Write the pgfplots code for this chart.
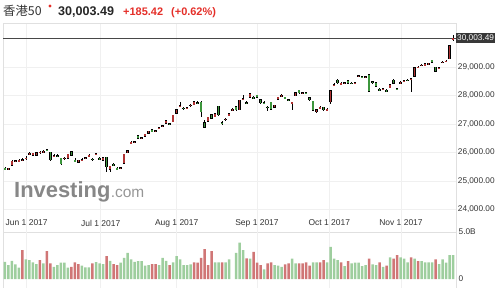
\documentclass[border=0pt]{standalone}
\usepackage{pgfplots}
\pgfplotsset{compat=1.18}
\usepackage{pgfplotstable}
\usepackage{fontspec}
\setmainfont{Liberation Sans}
\newfontfamily\cjk{Noto Sans CJK SC}
\definecolor{upred}{RGB}{176,50,50}
\definecolor{dngreen}{RGB}{60,150,60}
\definecolor{vgreen}{RGB}{158,206,158}
\definecolor{vred}{RGB}{208,118,118}
\definecolor{txt}{RGB}{51,51,51}
\definecolor{chred}{RGB}{228,46,40}
\definecolor{gridc}{RGB}{240,240,240}
\definecolor{framec}{RGB}{224,224,224}
\definecolor{logogray}{RGB}{135,135,135}
\definecolor{logocom}{RGB}{150,150,150}

\pgfplotstableread{
i o h l c
1 25410 25470 25390 25440
2 25560 25720 25540 25690
3 25680 25730 25650 25700
4 25700 25760 25670 25720
5 25730 25790 25700 25745
6 25780 25860 25740 25800
7 25950 26020 25920 25975
8 25910 25990 25890 25970
9 25900 26000 25880 25985
10 25990 26040 25960 26010
11 26020 26080 26000 26045
14 25870 25930 25840 25890
17 25780 25830 25750 25800
18 25800 25950 25790 25940
21 25650 25740 25630 25730
22 25730 25790 25700 25745
23 25800 25850 25770 25820
24 25850 25930 25840 25910
26 25930 25990 25900 25950
28 25730 25830 25720 25820
30 25410 25530 25330 25510
33 25450 25500 25420 25470
34 25620 25950 25600 25930
35 26000 26080 25990 26060
36 26330 26400 26300 26350
37 26360 26410 26330 26380
39 26490 26550 26460 26510
40 26560 26640 26550 26630
41 26680 26760 26670 26750
43 26750 26800 26720 26765
44 26850 26900 26810 26860
45 26920 26980 26900 26945
46 27030 27130 27020 27120
48 27080 27330 27060 27300
49 27380 27520 27370 27500
50 27600 27770 27580 27630
52 27555 27600 27530 27570
53 27640 27690 27610 27660
54 27680 27780 27670 27770
58 27100 27240 27080 27230
60 27260 27360 27250 27350
63 27150 27220 27120 27170
64 27300 27380 27290 27360
65 27500 27550 27470 27510
67 27500 27850 27490 27830
68 27870 28000 27830 27890
70 27930 28060 27920 28050
77 27580 27660 27570 27650
78 27860 27940 27850 27930
79 27990 28040 27960 28000
82 27700 27780 27480 27760
83 27990 28110 27980 28100
85 28080 28130 28050 28095
89 27420 27510 27400 27500
90 27570 27620 27540 27580
92 27500 27550 27470 27510
93 27780 28180 27700 28160
94 28360 28420 28330 28380
96 28410 28460 28380 28420
97 28420 28470 28400 28435
100 28420 28450 28400 28435
101 28670 28720 28650 28690
103 28640 28680 28610 28650
108 28220 28260 28190 28230
110 28270 28380 28260 28370
113 28440 28500 28410 28460
114 28500 28550 28470 28520
116 28560 28610 28120 28580
117 28680 28990 28660 28970
118 28980 29030 28950 28995
119 29050 29100 29020 29060
120 29050 29120 29040 29110
121 29070 29140 29060 29130
124 28960 29010 28930 28970
125 29140 29210 29120 29170
126 29190 29240 29160 29200
127 29280 29760 29260 29740
128 29950 30120 29900 30003.49
}\upc

\pgfplotstableread{
i o h l c
0 25440 25480 25380 25420
12 26100 26130 26040 26070
13 26000 26020 25720 25740
15 25890 25940 25850 25880
16 25790 25800 25600 25610
19 26020 26050 25890 25910
20 25720 25790 25660 25705
25 25770 25800 25720 25750
27 25790 25840 25740 25770
29 25830 25850 25300 25500
31 25580 25620 25520 25560
32 25440 25480 25390 25420
38 26580 26600 26470 26490
42 26790 26810 26720 26740
47 27000 27040 26960 26990
51 27550 27590 27500 27540
55 27740 27790 27700 27730
56 27760 27790 27260 27430
57 27050 27150 26880 26890
59 27320 27340 27180 27200
61 27620 27640 27300 27320
62 27040 27090 26950 27020
66 27600 27620 27480 27500
69 27750 27800 27700 27740
71 27930 27970 27890 27920
72 28000 28030 27920 27930
73 27840 27860 27740 27750
74 27740 27790 27700 27730
75 27590 27630 27460 27570
76 27760 27780 27500 27510
80 27930 27960 27880 27915
81 27840 27880 27790 27825
84 28180 28200 28080 28090
86 28090 28130 28050 28080
87 27920 27940 27840 27850
88 27800 27810 27440 27480
91 27590 27600 27480 27490
95 28530 28560 28430 28440
98 28510 28530 28420 28430
99 28430 28460 28400 28425
102 28650 28690 28620 28640
104 28720 28740 28130 28150
105 28470 28500 28400 28450
106 28450 28460 28320 28330
107 28210 28250 28160 28200
109 28180 28210 28130 28160
111 28540 28580 28420 28430
112 28230 28270 28190 28220
115 28540 28570 28500 28530
122 29230 29250 29150 29160
123 28990 29000 28830 28850
}\dnc

\pgfplotsset{
  wick/.style={draw=none, mark=none,
    error bars/.cd, y dir=both, y explicit, error mark=none,
    error bar style={draw=black, line width=0.5bp}},
  body/.style 2 args={draw=none, mark=none,
    error bars/.cd, y dir=both, y explicit, error mark=none,
    error bar style={draw=#2, line width=#1}},
}

\begin{document}
\begin{tikzpicture}
\useasboundingbox (0,0) rectangle (502bp,294bp);
% title
\node[anchor=base west, inner sep=0pt, font=\cjk\fontsize{12.4}{14}\selectfont, text=txt] at (3bp,278bp) {香港50};
\fill[chred] (50bp,288bp) circle (1.7bp);
\node[anchor=base west, inner sep=0pt, font=\fontsize{12.6}{14}\selectfont\bfseries, text=black!85] at (58bp,278bp) {30,003.49};
\node[anchor=base west, inner sep=0pt, font=\fontsize{11}{13}\selectfont\bfseries, text=chred] at (123bp,278bp) {+185.42};
\node[anchor=base west, inner sep=0pt, font=\fontsize{11}{13}\selectfont\bfseries, text=chred] at (171bp,278bp) {(+0.62\%)};

% price panel
\begin{axis}[
  at={(3bp,62bp)}, anchor=south west, scale only axis,
  width=453bp, height=209bp,
  xmin=-0.571, xmax=128.857, ymin=23211, ymax=30539,
  axis line style={framec},
  scaled y ticks=false, scaled x ticks=false,
  ytick={24000,25000,26000,27000,28000,29000},
  yticklabels={{24,000.00},{25,000.00},{26,000.00},{27,000.00},{28,000.00},{29,000.00}},
  yticklabel pos=right,
  y tick label style={anchor=west, inner sep=0pt, xshift=1.7bp, font=\fontsize{8.3}{9}\selectfont, text=txt},
  xtick={6.2,27.34,49.06,72,92.66,113.14},
  xticklabels={Jun 1 2017,Jul 1 2017,Aug 1 2017,Sep 1 2017,Oct 1 2017,Nov 1 2017},
  x tick label style={anchor=center, inner sep=0pt, yshift=9bp, font=\fontsize{8.5}{9}\selectfont, text=txt},
  major tick length=0pt,
  grid=major, major grid style={gridc, line width=0.6bp},
]
\addplot[black!72, line width=1.2bp] coordinates {(-0.571,30003.49) (128.857,30003.49)};
\coordinate (lastp) at (axis cs:128.857,30003.49);
% wicks
\addplot[wick] table[x=i, y=c, y error plus expr=\thisrow{h}-\thisrow{c}, y error minus expr=\thisrow{c}-\thisrow{l}] {\upc};
\addplot[wick] table[x=i, y=c, y error plus expr=\thisrow{h}-\thisrow{c}, y error minus expr=\thisrow{c}-\thisrow{l}] {\dnc};
% body outlines
\addplot[body={2.7bp}{black}] table[x=i, y expr=(\thisrow{o}+\thisrow{c})/2, y error expr=abs(\thisrow{c}-\thisrow{o})/2+18] {\upc};
\addplot[body={2.7bp}{black}] table[x=i, y expr=(\thisrow{o}+\thisrow{c})/2, y error expr=abs(\thisrow{c}-\thisrow{o})/2+18] {\dnc};
% body fills
\addplot[body={1.7bp}{upred}] table[x=i, y expr=(\thisrow{o}+\thisrow{c})/2, y error expr=abs(\thisrow{c}-\thisrow{o})/2] {\upc};
\addplot[body={1.7bp}{dngreen}] table[x=i, y expr=(\thisrow{o}+\thisrow{c})/2, y error expr=abs(\thisrow{c}-\thisrow{o})/2] {\dnc};
\end{axis}

% volume panel
\begin{axis}[
  at={(3bp,6bp)}, anchor=south west, scale only axis,
  width=453bp, height=56bp,
  xmin=-0.571, xmax=128.857, ymin=-0.957, ymax=5,
  separate axis lines,
  x axis line style={draw=none},
  y axis line style={framec},
  xtick={6.2,27.34,49.06,72,92.66,113.14},
  xticklabels={},
  ytick={0,5}, yticklabels={0,5.0B},
  yticklabel pos=right,
  y tick label style={anchor=west, inner sep=0pt, xshift=2.5bp, font=\fontsize{8.3}{9}\selectfont, text=txt},
  major tick length=0pt,
  xmajorgrids, major grid style={gridc, line width=0.6bp},
]
\addplot[ybar, bar width=2.5bp, bar shift=0pt, fill=vgreen, draw=none] coordinates {
(0,1.83)(1,1.48)(2,1.94)(3,1.55)(4,1.20)(6,2.08)(7,2.01)(8,1.76)(9,1.59)(11,1.66)(14,1.30)(15,1.48)(16,1.73)(17,1.73)(18,1.20)(22,1.41)(23,1.23)(24,1.23)(26,1.80)(27,1.66)(28,1.59)(30,1.94)(33,1.73)(34,2.26)(35,2.78)(36,2.08)(37,1.83)(38,1.90)(39,1.90)(40,1.41)(41,1.48)(44,1.48)(45,2.26)(46,1.94)(48,1.76)(49,2.43)(50,2.08)(51,1.48)(52,1.48)(53,1.55)(60,1.76)(61,1.76)(63,1.76)(64,2.08)(66,2.78)(67,3.87)(68,3.07)(70,2.18)(74,1.02)(77,1.48)(78,1.41)(79,1.30)(82,2.18)(83,1.66)(88,1.76)(89,1.76)(92,1.76)(93,3.42)(94,2.18)(95,2.01)(97,1.37)(99,1.66)(100,1.73)(101,1.73)(102,1.37)(103,1.48)(105,1.55)(106,1.48)(108,1.30)(110,2.29)(113,2.29)(114,2.18)(115,1.76)(117,2.18)(119,1.90)(120,1.76)(121,1.76)(122,1.76)(124,1.59)(125,2.08)(126,1.73)(127,2.54)(128,2.54)
};
\addplot[ybar, bar width=2.5bp, bar shift=0pt, fill=vred, draw=none] coordinates {
(5,3.07)(10,2.01)(12,2.96)(13,1.66)(19,1.30)(20,1.76)(21,1.59)(25,1.66)(29,2.43)(31,1.59)(32,1.48)(42,1.59)(43,1.59)(47,1.48)(54,1.76)(55,1.73)(56,2.26)(57,3.17)(58,1.48)(59,2.96)(62,1.76)(69,2.19)(71,2.89)(72,1.73)(73,1.48)(75,1.66)(76,1.76)(80,1.55)(81,1.66)(84,1.66)(85,1.66)(86,1.76)(87,1.41)(90,1.76)(91,2.01)(96,1.76)(98,1.90)(104,2.18)(107,1.76)(109,1.41)(111,2.18)(112,2.54)(116,2.29)(118,1.90)(123,2.08)
};
\end{axis}

% last price tag
\node[fill=black!78, text=white, anchor=west, inner xsep=1bp, inner ysep=1.4bp, font=\fontsize{8.3}{9}\selectfont] at (lastp) {30,003.49};
% logo
\node[anchor=base west, inner sep=0pt, font=\fontsize{22}{24}\selectfont\bfseries, text=logogray] (inv) at (14bp,96.5bp) {Investing};
\node[anchor=base west, inner sep=0pt, font=\fontsize{15.5}{17}\selectfont, text=logocom] at (inv.base east) {.com};
\end{tikzpicture}
\end{document}
